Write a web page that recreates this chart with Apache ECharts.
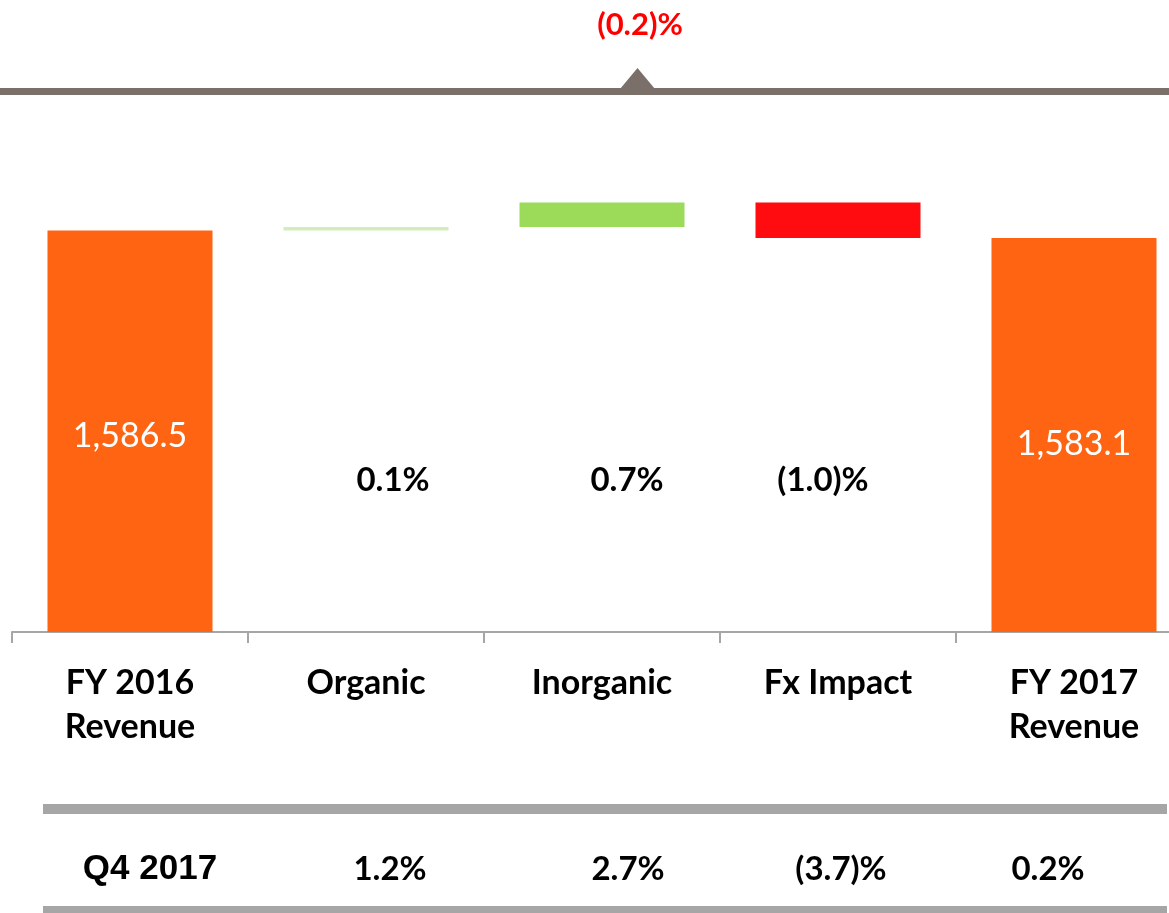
<!DOCTYPE html>
<html>
<head>
<meta charset="utf-8">
<script src="https://cdn.jsdelivr.net/npm/echarts@6/dist/echarts.min.js"></script>
<style>
  html, body { margin: 0; padding: 0; background: #fff; overflow: hidden; }
  /* the slide cuts off the right part of the last column */
  #chart { width: 1192px; height: 913px; }
</style>
</head>
<body>
<div id="chart"></div>
<script>
// revenue bridge FY2016 -> FY2017
const categories = ['FY 2016\nRevenue', 'Organic', 'Inorganic', 'Fx Impact', 'FY 2017\nRevenue'];
const startRevenue = 1586.5;
const endRevenue = 1583.1;
const bridgeSteps = [1.6, 11.1, -16.1];
const bridgeLabels = ['0.1%', '0.7%', '(1.0)%'];
const totalChangeLabel = '(0.2)%';
const q4Labels = ['Q4 2017', '1.2%', '2.7%', '(3.7)%', '0.2%'];

// waterfall: invisible base + visible up / down steps
const baseData = ['-'], upData = ['-'], downData = ['-'], totalData = [startRevenue];
let running = startRevenue;
bridgeSteps.forEach(v => {
  if (v >= 0) {
    baseData.push(running);
    upData.push(v);
    downData.push('-');
  } else {
    baseData.push(running + v);
    upData.push('-');
    downData.push(-v);
  }
  totalData.push('-');
  running += v;
});
baseData.push('-'); upData.push('-'); downData.push('-'); totalData.push(endRevenue);

const chart = echarts.init(document.getElementById('chart'));

const barW = 165;
const option = {
  backgroundColor: '#fff',
  animation: false,
  grid: { left: 12, right: 0, top: 192, height: 440, containLabel: false },
  xAxis: {
    type: 'category',
    data: categories,
    axisLine: { lineStyle: { color: '#A6A6A6', width: 2 } },
    axisTick: { show: true, length: 11, lineStyle: { color: '#A6A6A6', width: 2 } },
    axisLabel: {
      interval: 0,
      margin: 29,
      color: '#000',
      fontFamily: 'Lato',
      fontWeight: 'bold',
      fontSize: 34,
      lineHeight: 44
    }
  },
  yAxis: {
    type: 'value',
    min: 1404,
    max: 1604,
    startValue: 1404,
    show: false,
    splitLine: { show: false }
  },
  series: [
    {
      name: 'base', type: 'bar', stack: 'bridge', barWidth: barW, silent: true,
      itemStyle: { color: 'transparent' },
      data: baseData
    },
    {
      name: 'up', type: 'bar', stack: 'bridge', barWidth: barW,
      itemStyle: {
        color: p => (p.value < 3 ? '#D2EDBB' : '#9CDB5A')
      },
      data: upData
    },
    {
      name: 'down', type: 'bar', stack: 'bridge', barWidth: barW,
      itemStyle: { color: '#FE0C0F' },
      data: downData
    },
    {
      name: 'total', type: 'bar', barWidth: barW, barGap: '-100%',
      itemStyle: { color: '#FE6412' },
      label: {
        show: true,
        position: 'insideTop',
        distance: 189,
        color: '#fff',
        fontFamily: 'Lato',
        fontSize: 34,
        formatter: p => p.value.toLocaleString('en-US', { minimumFractionDigits: 1 })
      },
      data: totalData
    }
  ]
};
chart.setOption(option);

// text placed relative to the category centres
const midOffsets = [27, 25, -15];
const q4Offsets = [20, 24, 26, 3, -26];
const colX = i => chart.convertToPixel({ xAxisIndex: 0 }, categories[i]);

const graphics = [
  { type: 'rect', shape: { x: 0, y: 88, width: 1192, height: 7 }, style: { fill: '#7B6F69' } },
  { type: 'polygon', shape: { points: [[620, 89], [637.5, 68], [655, 89]] }, style: { fill: '#7B6F69' } },
  {
    type: 'text', x: 640, y: 25,
    style: { text: totalChangeLabel, fill: '#FF0000', fontFamily: 'Lato', fontWeight: 'bold', fontSize: 31, align: 'center', verticalAlign: 'middle' }
  },
  { type: 'rect', shape: { x: 43, y: 804, width: 1124, height: 10 }, style: { fill: '#A6A6A6' } },
  { type: 'rect', shape: { x: 43, y: 906, width: 1124, height: 8 }, style: { fill: '#A6A6A6' } }
];

bridgeLabels.forEach((t, i) => {
  graphics.push({
    type: 'text', x: colX(i + 1) + midOffsets[i], y: 480,
    style: { text: t, fill: '#000', fontFamily: 'Lato', fontWeight: 'bold', fontSize: 33, align: 'center', verticalAlign: 'middle' }
  });
});

q4Labels.forEach((t, i) => {
  graphics.push({
    type: 'text', x: colX(i) + q4Offsets[i], y: 869,
    style: {
      text: t, fill: '#000',
      fontFamily: i === 0 ? 'Liberation Sans' : 'Lato',
      fontWeight: 'bold', fontSize: i === 0 ? 35 : 33,
      align: 'center', verticalAlign: 'middle'
    }
  });
});

chart.setOption({ graphic: graphics });

window.addEventListener('resize', () => chart.resize());
</script>
</body>
</html>
